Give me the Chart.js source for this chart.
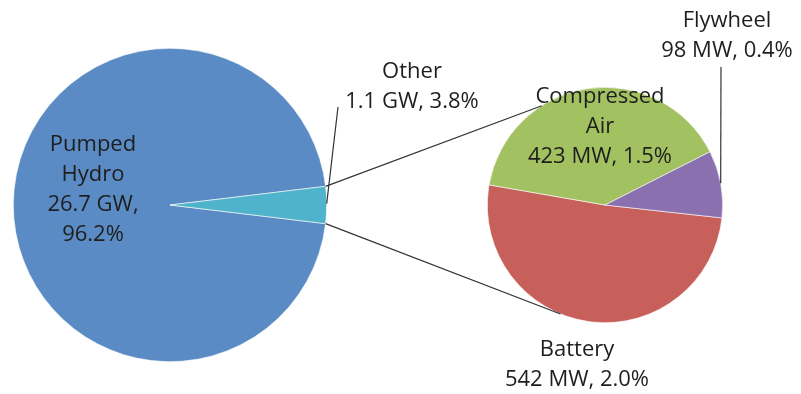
<!DOCTYPE html>
<html>
<head>
<meta charset="utf-8">
<script src="https://cdn.jsdelivr.net/npm/chart.js@4.4.1/dist/chart.umd.min.js"></script>
<style>
  html, body { margin: 0; padding: 0; background: #fff; }
  #wrap { position: relative; width: 801px; height: 394px; }
  #wrap canvas { position: absolute; left: 0; top: 0; }
</style>
</head>
<body>
<div id="wrap">
  <canvas id="mainPie" width="801" height="394"></canvas>
  <canvas id="subPie" width="801" height="394"></canvas>
</div>
<script>
// main pie: share of total storage
const mainLabels = ['Pumped Hydro', 'Other'];
const mainValues = [96.2, 3.8];
const mainText = [['Pumped', 'Hydro', '26.7 GW,', '96.2%'], ['Other', '1.1 GW, 3.8%']];

// secondary pie: breakdown of "Other" (MW)
const subLabels = ['Battery', 'Compressed Air', 'Flywheel'];
const subValues = [542, 423, 98];
const subText = [['Battery', '542 MW, 2.0%'], ['Compressed', 'Air', '423 MW, 1.5%'], ['Flywheel', '98 MW, 0.4%']];

const mainColors = ['#5a8bc4', '#4fb3cb'];
const subColors = ['#c7605b', '#a2c161', '#8a70ae'];

const FONT = '22px "Open Sans", sans-serif';
const TEXT_COLOR = '#1e1e1e';
const LINE_H = 30;

// label block centres (first line middle), relative to canvas
const mainLabelPos = [{ x: 93, y: 145 }, { x: 412, y: 72 }];
const subLabelPos = [{ x: 577, y: 350 }, { x: 600, y: 97 }, { x: 727, y: 21 }];

function drawLabels(ctx, lines, pos) {
    ctx.save();
    ctx.font = FONT;
    ctx.fillStyle = TEXT_COLOR;
    ctx.textAlign = 'center';
    ctx.textBaseline = 'middle';
    lines.forEach((block, i) => {
        block.forEach((t, j) => ctx.fillText(t, pos[i].x, pos[i].y + j * LINE_H));
    });
    ctx.restore();
}

function edgePoint(arc, deg) {
    const a = deg * Math.PI / 180;
    return { x: arc.x + arc.outerRadius * Math.cos(a), y: arc.y + arc.outerRadius * Math.sin(a) };
}

function line(ctx, a, b) {
    ctx.beginPath();
    ctx.moveTo(a.x, a.y);
    ctx.lineTo(b.x, b.y);
    ctx.stroke();
}

const mainLabelPlugin = {
    id: 'mainLabels',
    afterDraw(chart) {
        const ctx = chart.ctx;
        drawLabels(ctx, mainText, mainLabelPos);
        // leader line for "Other"
        const other = chart.getDatasetMeta(0).data[1];
        ctx.save();
        ctx.strokeStyle = '#333';
        ctx.lineWidth = 1.2;
        line(ctx, { x: mainLabelPos[1].x - 74, y: mainLabelPos[1].y + 35 }, edgePoint(other, -0.5));
        ctx.restore();
    }
};

const mainChart = new Chart(document.getElementById('mainPie'), {
    type: 'pie',
    data: {
        labels: mainLabels,
        datasets: [{
            data: mainValues,
            backgroundColor: mainColors,
            borderColor: '#ffffff',
            borderWidth: 0.6
        }]
    },
    options: {
        responsive: false,
        animation: false,
        rotation: 90 + mainValues[1] / 100 * 180,
        layout: { padding: { left: 13, right: 474, top: 48, bottom: 32 } },
        plugins: { legend: { display: false }, tooltip: { enabled: false } }
    },
    plugins: [mainLabelPlugin]
});

const subLabelPlugin = {
    id: 'subLabels',
    afterDraw(chart) {
        const ctx = chart.ctx;
        const arcs = chart.getDatasetMeta(0).data;
        const other = mainChart.getDatasetMeta(0).data[1];
        ctx.save();
        ctx.strokeStyle = '#333';
        ctx.lineWidth = 1.2;
        // connectors from the "Other" slice to the breakdown pie
        line(ctx, edgePoint(other, other.startAngle * 180 / Math.PI), edgePoint(arcs[0], -122.5));
        line(ctx, edgePoint(other, other.endAngle * 180 / Math.PI), edgePoint(arcs[0], 112.2));
        // leader line for "Flywheel"
        line(ctx, { x: subLabelPos[2].x - 6, y: subLabelPos[2].y + 46 }, edgePoint(arcs[2], -10.6));
        ctx.restore();
        drawLabels(ctx, subText, subLabelPos);
    }
};

const subChart = new Chart(document.getElementById('subPie'), {
    type: 'pie',
    data: {
        labels: subLabels,
        datasets: [{
            data: subValues,
            backgroundColor: subColors,
            borderColor: '#ffffff',
            borderWidth: 0.6
        }]
    },
    options: {
        responsive: false,
        animation: false,
        rotation: 96.3,
        layout: { padding: { left: 487, right: 78, top: 87, bottom: 71 } },
        plugins: { legend: { display: false }, tooltip: { enabled: false } }
    },
    plugins: [subLabelPlugin]
});
</script>
</body>
</html>
